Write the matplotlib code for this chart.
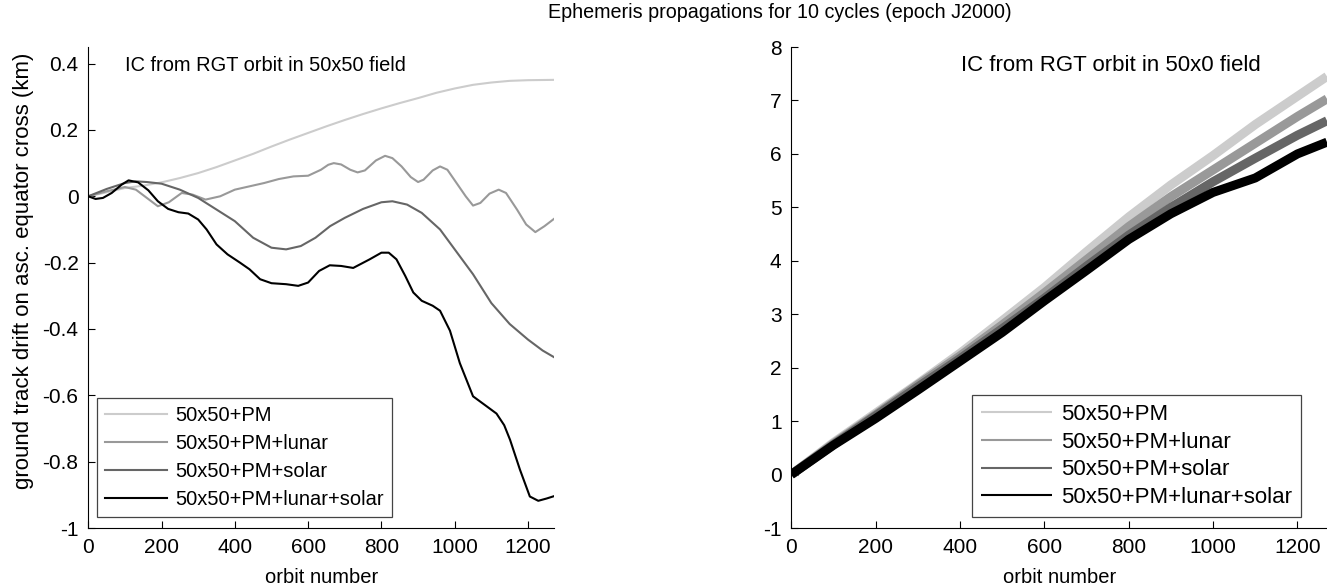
import numpy as np
import matplotlib.pyplot as plt

plt.rcParams['font.family'] = ['Liberation Sans', 'DejaVu Sans']
plt.rcParams['axes.unicode_minus'] = False

# datos
labels = ['50x50+PM', '50x50+PM+lunar', '50x50+PM+solar', '50x50+PM+lunar+solar']
colors = ['#cccccc', '#999999', '#666666', '#000000']

# panel izquierdo: campo 50x50
x_pm = [0, 50, 100, 150, 200, 250, 300, 350, 400, 450, 500, 550, 600, 650, 700,
        750, 800, 850, 900, 950, 1000, 1050, 1100, 1150, 1200, 1271]
y_pm = [0, 0.012, 0.025, 0.032, 0.042, 0.055, 0.07, 0.088, 0.108, 0.128, 0.150,
        0.171, 0.191, 0.211, 0.230, 0.248, 0.265, 0.281, 0.296, 0.312, 0.325,
        0.336, 0.343, 0.348, 0.350, 0.351]

x_lun = [0, 50, 100, 130, 160, 190, 220, 255, 285, 320, 360, 400, 440, 480, 520,
         560, 600, 635, 655, 670, 690, 715, 735, 755, 785, 810, 830, 855, 880, 900,
         915, 940, 960, 980, 1005, 1030, 1050, 1070, 1095, 1120, 1140, 1170, 1195,
         1220, 1245, 1271]
y_lun = [0, 0.015, 0.028, 0.02, -0.005, -0.03, -0.018, 0.01, 0.005, -0.01, 0.0,
         0.02, 0.03, 0.04, 0.052, 0.06, 0.062, 0.08, 0.095, 0.1, 0.096, 0.08, 0.072,
         0.078, 0.108, 0.122, 0.115, 0.09, 0.058, 0.043, 0.05, 0.078, 0.09, 0.08,
         0.04, 0.0, -0.028, -0.02, 0.008, 0.02, 0.01, -0.04, -0.085, -0.108, -0.09,
         -0.068]

x_sol = [0, 50, 100, 130, 160, 200, 250, 300, 350, 400, 450, 500, 540, 580, 620,
         660, 700, 750, 800, 830, 870, 910, 960, 1000, 1050, 1100, 1150, 1200,
         1240, 1271]
y_sol = [0, 0.022, 0.04, 0.045, 0.043, 0.038, 0.02, -0.005, -0.04, -0.075, -0.125,
         -0.155, -0.16, -0.15, -0.125, -0.09, -0.065, -0.038, -0.018, -0.015,
         -0.025, -0.05, -0.1, -0.16, -0.235, -0.322, -0.385, -0.432, -0.465, -0.485]

x_ls = [0, 20, 40, 64, 91, 110, 136, 164, 190, 218, 246, 273, 300, 323, 350, 380,
        414, 440, 469, 500, 540, 573, 600, 630, 659, 690, 723, 768, 800, 820, 841,
        865, 887, 910, 940, 960, 987, 1014, 1050, 1087, 1114, 1135, 1151, 1178,
        1205, 1228, 1251, 1271]
y_ls = [0, -0.008, -0.005, 0.01, 0.035, 0.048, 0.042, 0.018, -0.015, -0.038,
        -0.048, -0.052, -0.07, -0.1, -0.145, -0.175, -0.2, -0.22, -0.25, -0.262,
        -0.265, -0.27, -0.26, -0.225, -0.208, -0.21, -0.216, -0.19, -0.17, -0.17,
        -0.19, -0.24, -0.29, -0.315, -0.33, -0.345, -0.405, -0.503, -0.603,
        -0.633, -0.655, -0.69, -0.734, -0.824, -0.905, -0.918, -0.911, -0.904]

# panel derecho: campo 50x0
x_r = [0, 100, 200, 300, 400, 500, 600, 700, 800, 900, 1000, 1100, 1200, 1270]
r_pm = [0, 0.6, 1.15, 1.7, 2.27, 2.88, 3.5, 4.17, 4.82, 5.42, 5.97, 6.55, 7.08, 7.45]
r_lun = [0, 0.58, 1.12, 1.68, 2.22, 2.8, 3.4, 4.02, 4.64, 5.2, 5.7, 6.2, 6.7, 7.03]
r_sol = [0, 0.56, 1.1, 1.64, 2.17, 2.73, 3.3, 3.9, 4.48, 5.0, 5.48, 5.92, 6.35, 6.62]
r_ls = [0, 0.55, 1.05, 1.58, 2.12, 2.66, 3.25, 3.82, 4.4, 4.88, 5.28, 5.55, 6.0, 6.22]

yticks_l = [-1, -0.8, -0.6, -0.4, -0.2, 0, 0.2, 0.4]
yticks_r = [-1, 0, 1, 2, 3, 4, 5, 6, 7, 8]
xticks = [0, 200, 400, 600, 800, 1000, 1200]

left = [(x_pm, y_pm), (x_lun, y_lun), (x_sol, y_sol), (x_ls, y_ls)]
right = [r_pm, r_lun, r_sol, r_ls]

fig = plt.figure(figsize=(13.27, 5.87), dpi=100)
ax1 = fig.add_axes([0.0665, 0.1005, 0.351, 0.8194])
ax2 = fig.add_axes([0.5963, 0.1005, 0.4037, 0.8194])

for (x, y), c, lab in zip(left, colors, labels):
    ax1.plot(x, y, color=c, lw=1.5, label=lab, solid_joinstyle='round')

for y, c, lab in zip(right, colors, labels):
    ax2.plot(x_r, y, color=c, lw=6.5, label=lab, solid_capstyle='butt')

ax1.set_xlim(0, 1271)
ax1.set_ylim(-1, 0.45)
ax1.set_yticks(yticks_l)
ax1.set_yticklabels([('%g' % v) for v in yticks_l])
ax2.set_xlim(0, 1270)
ax2.set_ylim(-1, 8)
ax2.set_yticks(yticks_r)

for ax in (ax1, ax2):
    ax.set_xticks(xticks)
    for s in ('top', 'right'):
        ax.spines[s].set_visible(False)
    ax.tick_params(direction='in', length=5, labelsize=15, pad=7)
    ax.set_xlabel('orbit number', fontsize=14.5)
    ax.xaxis.set_label_coords(0.5, -0.083)

ax1.set_ylabel('ground track drift on asc. equator cross (km)', fontsize=16)
ax1.yaxis.set_label_coords(-0.1166, 0.534)

ax1.text(0.079, 0.9626, 'IC from RGT orbit in 50x50 field', transform=ax1.transAxes,
         fontsize=14.4, va='center')
ax2.text(0.317, 0.9626, 'IC from RGT orbit in 50x0 field', transform=ax2.transAxes,
         fontsize=16, va='center')

leg1 = ax1.legend(loc='lower left', bbox_to_anchor=(0.0187, 0.023), borderaxespad=0,
                  fontsize=14.5, fancybox=False, edgecolor='#444444', framealpha=1,
                  handlelength=3.1, handletextpad=0.4, labelspacing=0.45)
leg2 = ax2.legend(loc='lower right', bbox_to_anchor=(0.9515, 0.023), borderaxespad=0,
                  fontsize=16, fancybox=False, edgecolor='#444444', framealpha=1,
                  handlelength=3.2, handletextpad=0.4, labelspacing=0.3)
for leg in (leg1, leg2):
    leg.get_frame().set_linewidth(0.9)
    for h in leg.get_lines():
        h.set_linewidth(1.5)

fig.text(780 / 1327, 1 - 12 / 587, 'Ephemeris propagations for 10 cycles (epoch J2000)',
         ha='center', va='center', fontsize=14.2)

fig.savefig('out.png', dpi=100)
